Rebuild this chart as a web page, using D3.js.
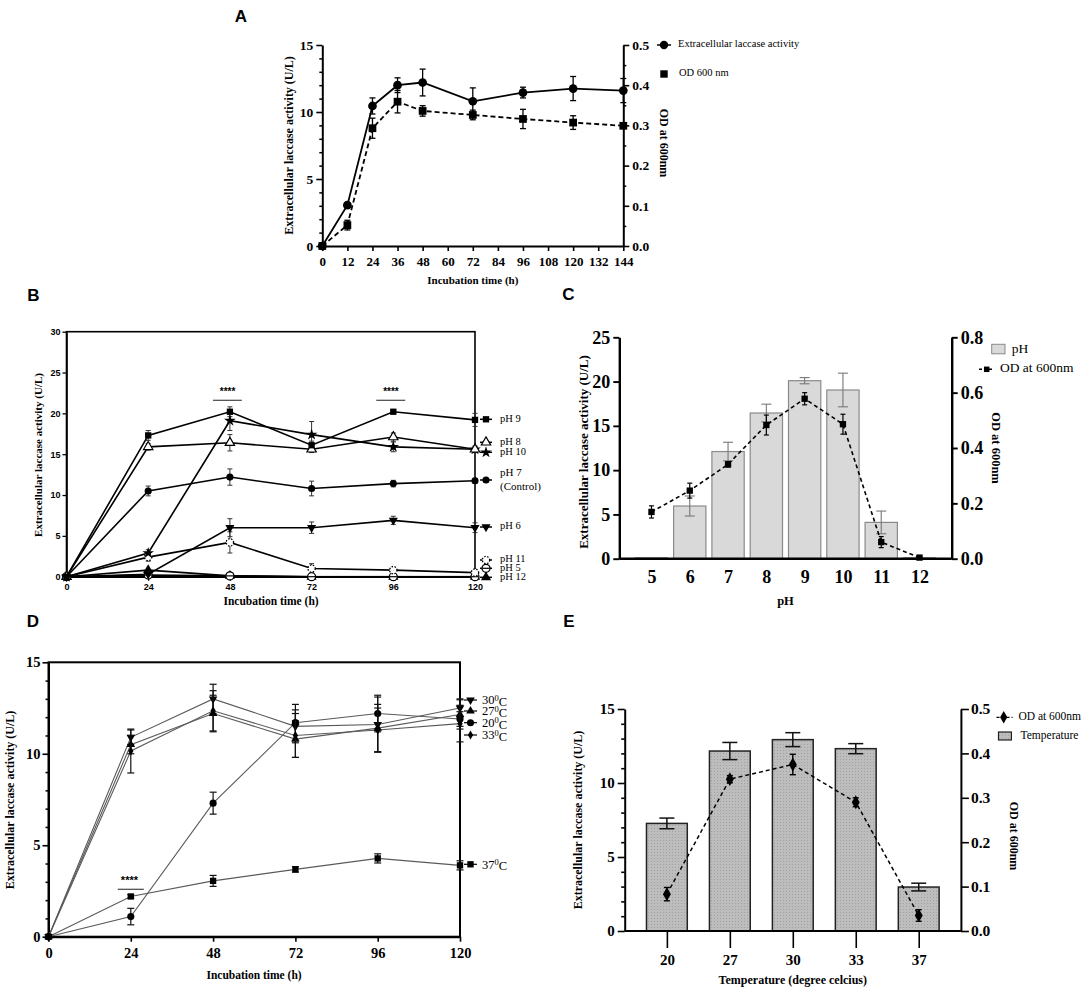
<!DOCTYPE html>
<html>
<head>
<meta charset="utf-8">
<script src="https://cdn.jsdelivr.net/npm/d3@7"></script>
<style>
  body { margin: 0; background: #fff; }
  svg { display: block; }
</style>
</head>
<body>
<div id="chart"></div>
<script>
// ---------- Panel A: time course, laccase + OD
const timeA = [0, 12, 24, 36, 48, 72, 96, 120, 144];
const laccaseA = [0, 3.05, 10.45, 12.0, 12.2, 10.8, 11.45, 11.75, 11.6];
const laccaseErrA = [0, 0.15, 0.6, 0.55, 1.0, 1.0, 0.4, 0.9, 0.9];
const odA = [0, 0.052, 0.293, 0.359, 0.336, 0.326, 0.316, 0.307, 0.299];
const odErrA = [0, 0.012, 0.025, 0.028, 0.013, 0.012, 0.024, 0.017, 0.005];

// ---------- Panel B: activity at different pH over time
const timeB = [0, 24, 48, 72, 96, 120];
const phLabelsB = ["pH 9", "pH 8", "pH 10", "pH 7", "pH 6", "pH 11", "pH 5", "pH 12"];
const phValuesB = [
  [0, 17.3, 20.2, 16.1, 20.2, 19.2],
  [0, 15.9, 16.4, 15.6, 17.1, 15.6],
  [0, 2.9, 19.1, 17.4, 15.9, 15.6],
  [0, 10.5, 12.2, 10.8, 11.4, 11.75],
  [0, 0.3, 6.0, 6.0, 6.9, 6.0],
  [0, 2.4, 4.2, 1.0, 0.8, 0.5],
  [0, 0.2, 0.1, 0, 0, 0],
  [0, 0.8, 0.1, 0, 0, 0]
];
const phErrB = [
  [0, 0.6, 0.6, 0.5, 0.2, 0.8],
  [0, 0.4, 1.0, 0.4, 0.5, 0.3],
  [0, 0.4, 1.2, 1.6, 0.6, 0.4],
  [0, 0.6, 1.0, 0.9, 0.4, 0.3],
  [0, 0.2, 1.1, 0.7, 0.5, 0.6],
  [0, 0.5, 1.3, 0.6, 0.3, 0.2],
  [0, 0, 0, 0, 0, 0],
  [0, 0, 0, 0, 0, 0]
];
const sigTimesB = [48, 96];

// ---------- Panel C: pH bars + OD
const phC = ["5", "6", "7", "8", "9", "10", "11", "12"];
const activityC = [0.1, 5.95, 12.1, 16.45, 20.1, 19.05, 4.1, 0.1];
const activityErrC = [0, 1.13, 1.05, 1.0, 0.35, 1.9, 1.28, 0];
const odC = [0.169, 0.246, 0.341, 0.483, 0.578, 0.486, 0.06, 0.004];
const odErrC = [0.022, 0.027, 0.01, 0.036, 0.022, 0.036, 0.02, 0.005];

// ---------- Panel D: activity at different temperatures over time
const timeD = [0, 24, 48, 72, 96, 120];
const tempLabelsD = ["30", "27", "20", "33", "37"];
const tempValuesD = [
  [0, 10.9, 13.0, 11.5, 11.6, 12.5],
  [0, 10.5, 12.2, 10.8, 11.4, 12.15],
  [0, 1.1, 7.3, 11.7, 12.2, 11.9],
  [0, 10.15, 12.35, 11.0, 11.3, 11.65],
  [0, 2.2, 3.05, 3.68, 4.28, 3.9]
];
const tempErrD = [
  [0, 0.4, 0.8, 0.9, 1.5, 0.5],
  [0, 0.5, 1.0, 1.0, 1.3, 0.8],
  [0, 0.45, 0.6, 1.0, 1.0, 0.4],
  [0, 1.2, 1.1, 1.2, 1.2, 1.0],
  [0, 0.1, 0.3, 0.15, 0.25, 0.25]
];
const sigTimesD = [24];

// ---------- Panel E: temperature bars + OD
const tempE = ["20", "27", "30", "33", "37"];
const activityE = [7.27, 12.16, 12.93, 12.32, 2.97];
const activityErrE = [0.36, 0.58, 0.47, 0.34, 0.26];
const odE = [0.083, 0.342, 0.375, 0.29, 0.035];
const odErrE = [0.015, 0.008, 0.023, 0.01, 0.013];

const SERIF = "'Liberation Serif', 'Times New Roman', serif";
const SANS = "'Liberation Sans', Arial, sans-serif";

const svg = d3.select("#chart").append("svg")
  .attr("width", 1084).attr("height", 995)
  .attr("viewBox", "0 0 1084 995");
svg.append("rect").attr("width", 1084).attr("height", 995).attr("fill", "#fff");

// ---------- helpers
function styleAxis(sel, size, family, lw) {
  sel.attr("font-family", null).attr("font-size", null);
  sel.select(".domain").attr("stroke-width", lw);
  sel.selectAll(".tick line").attr("stroke-width", lw * 0.8);
  sel.selectAll(".tick text").attr("font-size", size).attr("font-family", family)
    .attr("font-weight", "bold").attr("fill", "#000");
  return sel;
}

function minorTicks(g, axisFn, scale, values, size, transform, lw) {
  g.append("g").attr("transform", transform)
    .call(axisFn(scale).tickValues(values).tickSize(size).tickFormat("").tickSizeOuter(0))
    .call(s => s.select(".domain").remove())
    .selectAll("line").attr("stroke-width", lw);
}

function label(g, txt, x, y, size, opts = {}) {
  return g.append("text")
    .attr("transform", `translate(${x},${y})` + (opts.rotate ? ` rotate(${opts.rotate})` : ""))
    .attr("text-anchor", opts.anchor || "middle")
    .attr("dominant-baseline", "middle")
    .attr("font-family", opts.family || SERIF)
    .attr("font-weight", opts.bold === false ? "normal" : "bold")
    .attr("font-size", size)
    .attr("fill", "#000")
    .text(txt);
}

function errorBars(g, xs, vals, errs, x, y, cap, color, lw) {
  const pts = xs.map((t, i) => ({ t, v: vals[i], e: errs[i] })).filter(d => d.e > 0);
  const eg = g.append("g").attr("stroke", color).attr("stroke-width", lw).attr("fill", "none");
  eg.selectAll(null).data(pts).join("line")
    .attr("x1", d => x(d.t)).attr("x2", d => x(d.t))
    .attr("y1", d => y(d.v - d.e)).attr("y2", d => y(d.v + d.e));
  [-1, 1].forEach(s => {
    eg.selectAll(null).data(pts).join("line")
      .attr("x1", d => x(d.t) - cap).attr("x2", d => x(d.t) + cap)
      .attr("y1", d => y(d.v + s * d.e)).attr("y2", d => y(d.v + s * d.e));
  });
}

function seriesLine(g, xs, vals, x, y, color, lw, dash) {
  g.append("path")
    .datum(xs.map((t, i) => [t, vals[i]]))
    .attr("d", d3.line().x(d => x(d[0])).y(d => y(d[1])))
    .attr("fill", "none").attr("stroke", color).attr("stroke-width", lw)
    .attr("stroke-dasharray", dash || null);
}

// marker spec: {type, size, fill, stroke, rot, dash, bar}
function drawMarker(g, m, cx, cy) {
  const p = g.append("path")
    .attr("d", d3.symbol().type(m.type).size(m.size)())
    .attr("transform", `translate(${cx},${cy})` + (m.rot ? " rotate(180)" : ""))
    .attr("fill", m.fill || "#000")
    .attr("stroke", m.stroke || "none")
    .attr("stroke-width", m.sw || 1)
    .attr("stroke-dasharray", m.dash || null);
  if (m.bar) {
    g.append("line").attr("x1", cx - 3.5).attr("x2", cx + 3.5).attr("y1", cy).attr("y2", cy)
      .attr("stroke", "#000").attr("stroke-width", 1.2);
  }
  return p;
}

function markers(g, xs, vals, x, y, m) {
  xs.forEach((t, i) => drawMarker(g, m, x(t), y(vals[i])));
}

function panelLetter(txt, x, y) {
  label(svg, txt, x, y, 17, { family: SANS });
}

// =====================================================================
// Panel A
// =====================================================================
(function () {
  const g = svg.append("g");
  const x = d3.scaleLinear().domain([0, 144]).range([322.3, 623.3]);
  const y = d3.scaleLinear().domain([0, 15]).range([246, 45]);
  const y2 = d3.scaleLinear().domain([0, 0.5]).range([246, 45]);
  const LW = 2;

  styleAxis(g.append("g").attr("transform", "translate(322.3,0)")
    .call(d3.axisLeft(y).tickValues([0, 5, 10, 15]).tickSize(6).tickSizeOuter(0).tickPadding(3)),
    13.5, SERIF, LW);
  minorTicks(g, d3.axisLeft, y, d3.range(1, 15).filter(v => v % 5), 3, "translate(322.3,0)", 1.5);

  styleAxis(g.append("g").attr("transform", "translate(623.3,0)")
    .call(d3.axisRight(y2).tickValues(d3.range(0, 0.51, 0.1)).tickFormat(d3.format(".1f"))
      .tickSize(6).tickSizeOuter(0).tickPadding(3)),
    13.5, SERIF, LW);
  minorTicks(g, d3.axisRight, y2, [0.05, 0.15, 0.25, 0.35, 0.45], 3, "translate(623.3,0)", 1.5);

  styleAxis(g.append("g").attr("transform", "translate(0,246)")
    .call(d3.axisBottom(x).tickValues(d3.range(0, 145, 12)).tickSize(5).tickSizeOuter(0).tickPadding(6)),
    13, SERIF, LW);

  label(g, "Incubation time (h)", 472.8, 281, 11);
  label(g, "Extracellular laccase activity (U/L)", 290, 145.5, 12, { rotate: -90 });
  label(g, "OD at 600nm", 663, 143, 12, { rotate: 90 });

  // OD (dashed, squares)
  seriesLine(g, timeA, odA, x, y2, "#000", 1.8, "5,3");
  errorBars(g, timeA, odA, odErrA, x, y2, 3, "#000", 1.3);
  markers(g, timeA, odA, x, y2, { type: d3.symbolSquare, size: 60 });

  // laccase (solid, circles)
  seriesLine(g, timeA, laccaseA, x, y, "#000", 1.8);
  errorBars(g, timeA, laccaseA, laccaseErrA, x, y, 3, "#000", 1.3);
  markers(g, timeA, laccaseA, x, y, { type: d3.symbolCircle, size: 60 });

  // legend
  g.append("line").attr("x1", 657).attr("x2", 671).attr("y1", 45).attr("y2", 45)
    .attr("stroke", "#000").attr("stroke-width", 1.5);
  drawMarker(g, { type: d3.symbolCircle, size: 55 }, 664, 45);
  label(g, "Extracellular laccase activity", 678, 45, 10.5, { anchor: "start", bold: false });
  drawMarker(g, { type: d3.symbolSquare, size: 55 }, 664, 74);
  label(g, "OD 600 nm", 679, 74, 10.5, { anchor: "start", bold: false });

  panelLetter("A", 241, 18);
})();

// =====================================================================
// Panel B
// =====================================================================
(function () {
  const g = svg.append("g");
  const x = d3.scaleLinear().domain([0, 120]).range([66.5, 475]);
  const y = d3.scaleLinear().domain([0, 30]).range([576.7, 331.7]);
  const LW = 1.6;

  g.append("rect").attr("x", 66.5).attr("y", 331.7).attr("width", 475 - 66.5).attr("height", 576.7 - 331.7)
    .attr("fill", "none").attr("stroke", "#000").attr("stroke-width", LW);

  styleAxis(g.append("g").attr("transform", "translate(66.5,0)")
    .call(d3.axisLeft(y).tickValues(d3.range(0, 31, 5)).tickSize(4).tickSizeOuter(0).tickPadding(2)),
    9, SANS, LW);
  styleAxis(g.append("g").attr("transform", "translate(0,576.7)")
    .call(d3.axisBottom(x).tickValues(timeB).tickSize(4).tickSizeOuter(0).tickPadding(3)),
    9, SANS, LW);

  label(g, "Incubation time (h)", 271, 602, 11.5);
  label(g, "Extracellular laccase activity (U/L)", 39.5, 455, 11, { rotate: -90 });

  const mk = [
    { type: d3.symbolSquare, size: 40 },
    { type: d3.symbolTriangle, size: 38, fill: "#fff", stroke: "#000", sw: 1.2 },
    { type: d3.symbolStar, size: 42 },
    { type: d3.symbolCircle, size: 40 },
    { type: d3.symbolTriangle, size: 36, rot: true },
    { type: d3.symbolCircle, size: 42, fill: "#fff", stroke: "#000", sw: 1.3, dash: "1.5,1.5" },
    { type: d3.symbolCircle, size: 50, fill: "#fff", stroke: "#000", sw: 1.3, bar: true },
    { type: d3.symbolTriangle, size: 45 }
  ];

  // draw low series first so high ones overlay
  d3.range(phValuesB.length).reverse().forEach(k => {
    seriesLine(g, timeB, phValuesB[k], x, y, "#000", 1.6);
    errorBars(g, timeB, phValuesB[k], phErrB[k], x, y, 2.5, "#333", 1);
  });
  d3.range(phValuesB.length).reverse().forEach(k => {
    markers(g, timeB, phValuesB[k], x, y, mk[k]);
  });

  // significance marks
  sigTimesB.forEach(t => {
    g.append("line").attr("x1", x(t - 5)).attr("x2", x(t + 3.5)).attr("y1", y(21.6)).attr("y2", y(21.6))
      .attr("stroke", "#444").attr("stroke-width", 1.2);
    label(g, "****", x(t - 0.7), y(22.6), 10, { family: SANS });
  });

  // legend (right of frame)
  const legY = [419.3, 442.3, 452.3, 480, 527, 560, 568.3, 577.3];
  phLabelsB.forEach((lab, k) => {
    g.append("line").attr("x1", 480).attr("x2", 492).attr("y1", legY[k]).attr("y2", legY[k])
      .attr("stroke", "#000").attr("stroke-width", 1.5);
    drawMarker(g, mk[k], 486, legY[k]);
    if (lab === "pH 7") {
      label(g, "pH 7", 500, 473.3, 11, { anchor: "start", bold: false });
      label(g, "(Control)", 500, 487.3, 11, { anchor: "start", bold: false });
    } else {
      label(g, lab, 500, legY[k], 10.5, { anchor: "start", bold: false });
    }
  });

  panelLetter("B", 33.5, 297);
})();

// =====================================================================
// Panel C
// =====================================================================
(function () {
  const g = svg.append("g");
  const x = d3.scalePoint().domain(phC).range([619.3, 951.7]).padding(0.84);
  const y = d3.scaleLinear().domain([0, 25]).range([558.7, 337.3]);
  const y2 = d3.scaleLinear().domain([0, 0.8]).range([558.7, 337.3]);
  const LW = 2.4;
  const bw = 32.3;

  // bars
  g.selectAll(null).data(phC).join("rect")
    .attr("x", d => x(d) - bw / 2).attr("width", bw)
    .attr("y", (d, i) => y(activityC[i])).attr("height", (d, i) => y(0) - y(activityC[i]))
    .attr("fill", "#d9d9d9").attr("stroke", "#8a8a8a").attr("stroke-width", 1.2);
  errorBars(g, phC, activityC, activityErrC, x, y, 5, "#777", 1.1);

  // axes
  styleAxis(g.append("g").attr("transform", "translate(619.3,0)")
    .call(d3.axisLeft(y).tickValues(d3.range(0, 26, 5)).tickSize(6).tickSizeOuter(0).tickPadding(3)),
    18, SERIF, LW);
  styleAxis(g.append("g").attr("transform", "translate(951.7,0)")
    .call(d3.axisRight(y2).tickValues([0, 0.2, 0.4, 0.6, 0.8]).tickFormat(d3.format(".1f"))
      .tickSize(6).tickSizeOuter(0).tickPadding(3)),
    18, SERIF, LW);
  const xa = styleAxis(g.append("g").attr("transform", "translate(0,558.7)")
    .call(d3.axisBottom(x).tickSize(0).tickSizeOuter(0).tickPadding(12)),
    18, SERIF, LW);
  xa.select(".domain").attr("d", "M619.3,0H951.7");

  // OD
  seriesLine(g, phC, odC, x, y2, "#000", 1.6, "4,3");
  errorBars(g, phC, odC, odErrC, x, y2, 2.5, "#000", 1.2);
  markers(g, phC, odC, x, y2, { type: d3.symbolSquare, size: 40 });

  label(g, "pH", 785.5, 602, 12.5);
  label(g, "Extracellular laccase activity (U/L)", 585, 452, 13, { rotate: -90 });
  label(g, "OD at 600nm", 995, 448, 12.5, { rotate: 90 });

  // legend
  g.append("rect").attr("x", 991.7).attr("y", 344.3).attr("width", 13.3).attr("height", 9.5)
    .attr("fill", "#d9d9d9").attr("stroke", "#8a8a8a").attr("stroke-width", 1);
  label(g, "pH", 1011.7, 349.5, 13.5, { anchor: "start", bold: false });
  g.append("line").attr("x1", 979).attr("x2", 994).attr("y1", 369.3).attr("y2", 369.3)
    .attr("stroke", "#000").attr("stroke-width", 1.5).attr("stroke-dasharray", "3,2");
  drawMarker(g, { type: d3.symbolSquare, size: 30 }, 986.7, 369.3);
  label(g, "OD at 600nm", 1000, 369.3, 13.5, { anchor: "start", bold: false });

  panelLetter("C", 568.5, 296);
})();

// =====================================================================
// Panel D
// =====================================================================
(function () {
  const g = svg.append("g");
  const x = d3.scaleLinear().domain([0, 120]).range([48.5, 460]);
  const y = d3.scaleLinear().domain([0, 15]).range([936.7, 662.3]);
  const LW = 2;

  g.append("rect").attr("x", 48.5).attr("y", 662.3).attr("width", 460 - 48.5).attr("height", 936.7 - 662.3)
    .attr("fill", "none").attr("stroke", "#000").attr("stroke-width", LW);

  styleAxis(g.append("g").attr("transform", "translate(48.5,0)")
    .call(d3.axisLeft(y).tickValues([0, 5, 10, 15]).tickSize(6).tickSizeOuter(0).tickPadding(2)),
    14.5, SERIF, LW);
  minorTicks(g, d3.axisLeft, y, d3.range(1, 15).filter(v => v % 5), 3, "translate(48.5,0)", 1.5);
  styleAxis(g.append("g").attr("transform", "translate(0,936.7)")
    .call(d3.axisBottom(x).tickValues(timeD).tickSize(5).tickSizeOuter(0).tickPadding(6)),
    14.5, SERIF, LW);

  label(g, "Incubation time (h)", 254, 976, 11.5);
  label(g, "Extracellular laccase activity (U/L)", 11, 800, 12, { rotate: -90 });

  const mk = [
    { type: d3.symbolTriangle, size: 32, rot: true },
    { type: d3.symbolTriangle, size: 32 },
    { type: d3.symbolCircle, size: 40 },
    { type: d3.symbolDiamond, size: 24 },
    { type: d3.symbolSquare, size: 40 }
  ];

  tempValuesD.forEach((vals, k) => {
    seriesLine(g, timeD, vals, x, y, "#5a5a5a", 1.1);
  });
  tempValuesD.forEach((vals, k) => {
    errorBars(g, timeD, vals, tempErrD[k], x, y, 3.5, "#111", 1.2);
    markers(g, timeD, vals, x, y, mk[k]);
  });

  sigTimesD.forEach(t => {
    g.append("line").attr("x1", x(t - 3.8)).attr("x2", x(t + 3.8)).attr("y1", 889.3).attr("y2", 889.3)
      .attr("stroke", "#444").attr("stroke-width", 1.2);
    label(g, "****", x(t - 0.4), 881, 11, { family: SANS });
  });

  const legY = [700, 711, 722.7, 735, 864.3];
  tempLabelsD.forEach((lab, k) => {
    g.append("line").attr("x1", 464).attr("x2", 477).attr("y1", legY[k]).attr("y2", legY[k])
      .attr("stroke", "#000").attr("stroke-width", 1.2);
    drawMarker(g, mk[k], 470.5, legY[k]);
    const t = g.append("text").attr("x", 482).attr("y", legY[k]).attr("dy", "0.35em")
      .attr("font-family", SERIF).attr("font-size", 12.5).attr("fill", "#000");
    t.append("tspan").text(lab);
    t.append("tspan").attr("dy", "-0.45em").attr("font-size", 8.5).text("0");
    t.append("tspan").attr("dy", "0.45em").text("C");
  });

  panelLetter("D", 33, 623);
})();

// =====================================================================
// Panel E
// =====================================================================
(function () {
  const g = svg.append("g");
  const x = d3.scalePoint().domain(tempE).range([624.7, 960.9]).padding(0.67);
  const y = d3.scaleLinear().domain([0, 15]).range([931, 709]);
  const y2 = d3.scaleLinear().domain([0, 0.5]).range([931, 709]);
  const LW = 2;
  const bw = 40.8;

  const defs = svg.append("defs");
  const pat = defs.append("pattern").attr("id", "stipple").attr("patternUnits", "userSpaceOnUse")
    .attr("width", 3).attr("height", 3);
  pat.append("rect").attr("width", 3).attr("height", 3).attr("fill", "#bdbdbd");
  pat.append("rect").attr("width", 1).attr("height", 1).attr("fill", "#a2a2a2");

  g.selectAll(null).data(tempE).join("rect")
    .attr("x", d => x(d) - bw / 2).attr("width", bw)
    .attr("y", (d, i) => y(activityE[i])).attr("height", (d, i) => y(0) - y(activityE[i]))
    .attr("fill", "url(#stipple)").attr("stroke", "#222").attr("stroke-width", 1.5);
  errorBars(g, tempE, activityE, activityErrE, x, y, 7.5, "#111", 1.5);

  styleAxis(g.append("g").attr("transform", "translate(624.7,0)")
    .call(d3.axisLeft(y).tickValues([0, 5, 10, 15]).tickSize(7).tickSizeOuter(0).tickPadding(3)),
    15, SERIF, LW);
  minorTicks(g, d3.axisLeft, y, d3.range(1, 15).filter(v => v % 5), 3.5, "translate(624.7,0)", 1.6);
  styleAxis(g.append("g").attr("transform", "translate(960.9,0)")
    .call(d3.axisRight(y2).tickValues(d3.range(0, 0.51, 0.1)).tickFormat(d3.format(".1f"))
      .tickSize(8).tickSizeOuter(0).tickPadding(2)),
    15.5, SERIF, LW);
  const xa = styleAxis(g.append("g").attr("transform", "translate(0,931)")
    .call(d3.axisBottom(x).tickSize(17).tickSizeOuter(0).tickPadding(6)),
    15, SERIF, LW);
  xa.select(".domain").attr("d", "M624.7,0H960.9");

  seriesLine(g, tempE, odE, x, y2, "#000", 1.5, "4,3");
  errorBars(g, tempE, odE, odErrE, x, y2, 3, "#000", 1.4);
  markers(g, tempE, odE, x, y2, { type: d3.symbolDiamond, size: 55 });

  label(g, "Temperature (degree celcius)", 792.8, 981, 12);
  label(g, "Extracellular laccase activity (U/L)", 579, 820, 12, { rotate: -90 });
  label(g, "OD at 600nm", 1012.5, 836, 12, { rotate: 90 });

  g.append("line").attr("x1", 996.5).attr("x2", 1012.5).attr("y1", 717.3).attr("y2", 717.3)
    .attr("stroke", "#000").attr("stroke-width", 1.3).attr("stroke-dasharray", "3,2");
  drawMarker(g, { type: d3.symbolDiamond, size: 45 }, 1003.7, 717.3);
  label(g, "OD at 600nm", 1018.4, 717.3, 11.5, { anchor: "start", bold: false });
  g.append("rect").attr("x", 998.5).attr("y", 732).attr("width", 12.9).attr("height", 8)
    .attr("fill", "url(#stipple)").attr("stroke", "#222").attr("stroke-width", 1.2);
  label(g, "Temperature", 1020.5, 736, 11.5, { anchor: "start", bold: false });

  panelLetter("E", 569, 623);
})();
</script>
</body>
</html>
